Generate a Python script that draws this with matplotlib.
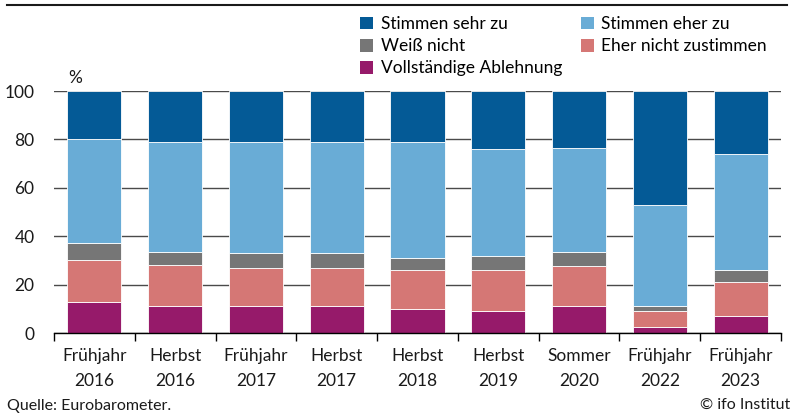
import matplotlib
matplotlib.use("Agg")
import matplotlib.pyplot as plt
import numpy as np
from matplotlib.lines import Line2D
from matplotlib.patches import Patch

plt.rcParams['font.family'] = ['Lato', 'DejaVu Sans']

categories = ["Frühjahr\n2016", "Herbst\n2016", "Frühjahr\n2017", "Herbst\n2017",
              "Herbst\n2018", "Herbst\n2019", "Sommer\n2020", "Frühjahr\n2022", "Frühjahr\n2023"]
ablehnung = [13, 11, 11, 11, 10, 9, 11, 2.6, 7]
eher_nicht = [17, 17, 16, 16, 16, 17, 16.5, 6.3, 14]
weiss_nicht = [7, 5.6, 6, 6, 5, 6, 5.8, 2.4, 5]
eher_zu = [43, 45.4, 46, 46, 48, 44.2, 43.3, 41.5, 48]
sehr_zu = [20, 21, 21, 21, 21, 23.8, 23.4, 47.2, 26]

series = [
    ("Vollständige Ablehnung", ablehnung, "#961a6a"),
    ("Eher nicht zustimmen", eher_nicht, "#d57775"),
    ("Weiß nicht", weiss_nicht, "#767676"),
    ("Stimmen eher zu", eher_zu, "#69acd6"),
    ("Stimmen sehr zu", sehr_zu, "#045a96"),
]

FS = 12.5

fig = plt.figure(figsize=(7.94, 4.17), dpi=100)
ax = fig.add_axes([54/794, 1-333/417, (781-54)/794, (333-91)/417])

x = np.arange(len(categories))
bottom = np.zeros(len(categories))
handles = {}
for name, vals, col in series:
    vals = np.array(vals, dtype=float)
    ax.bar(x, vals, 0.67, bottom=bottom, color=col, edgecolor="white",
           linewidth=0.6, zorder=3)
    handles[name] = Patch(facecolor=col, edgecolor="none")
    bottom += vals

ax.set_xlim(-0.5, len(categories) - 0.5)
ax.set_ylim(0, 100)
ax.set_yticks([0, 20, 40, 60, 80, 100])
ax.yaxis.grid(True, color="#4a4a4a", linewidth=1.0, zorder=0)
ax.set_axisbelow(True)
for s in ["top", "right", "left"]:
    ax.spines[s].set_visible(False)
ax.spines["bottom"].set_color("black")
ax.spines["bottom"].set_linewidth(1.0)
ax.spines["bottom"].set_zorder(5)

ax.set_xticks(np.arange(-0.5, len(categories), 1.0))
ax.set_xticklabels([])
ax.set_xticks(x, minor=True)
ax.set_xticklabels(categories, minor=True, fontsize=FS, color="#1a1a1a", linespacing=1.65)
ax.tick_params(axis="x", which="major", length=6, width=1, direction="out", color="black")
ax.tick_params(axis="x", which="minor", length=0, pad=11)
ax.tick_params(axis="y", length=0, labelsize=FS, pad=14, labelcolor="#1a1a1a")

fig.text(68/794, 1-78/417, "%", fontsize=FS, ha="left", va="center", color="#1a1a1a")

order = ["Stimmen sehr zu", "Weiß nicht", "Vollständige Ablehnung",
         "Stimmen eher zu", "Eher nicht zustimmen"]
fig.legend([handles[n] for n in order], order, ncol=2, loc="upper left",
           bbox_to_anchor=(348/794, 1-4/417), frameon=False, fontsize=FS,
           handlelength=0.75, handleheight=0.75, handletextpad=0.45,
           columnspacing=1.05, labelspacing=0.35, borderpad=0.2)

fig.add_artist(Line2D([7/794, 787/794], [1-5/417, 1-5/417], color="#1a1a1a",
                      linewidth=1.5, transform=fig.transFigure))

fig.text(7/794, 1-406/417, "Quelle: Eurobarometer.", fontsize=11.5, ha="left", va="center", color="#1a1a1a")
fig.text(790/794, 1-405/417, "© ifo Institut", fontsize=11.5, ha="right", va="center", color="#1a1a1a")

fig.savefig("out.png", dpi=100)
